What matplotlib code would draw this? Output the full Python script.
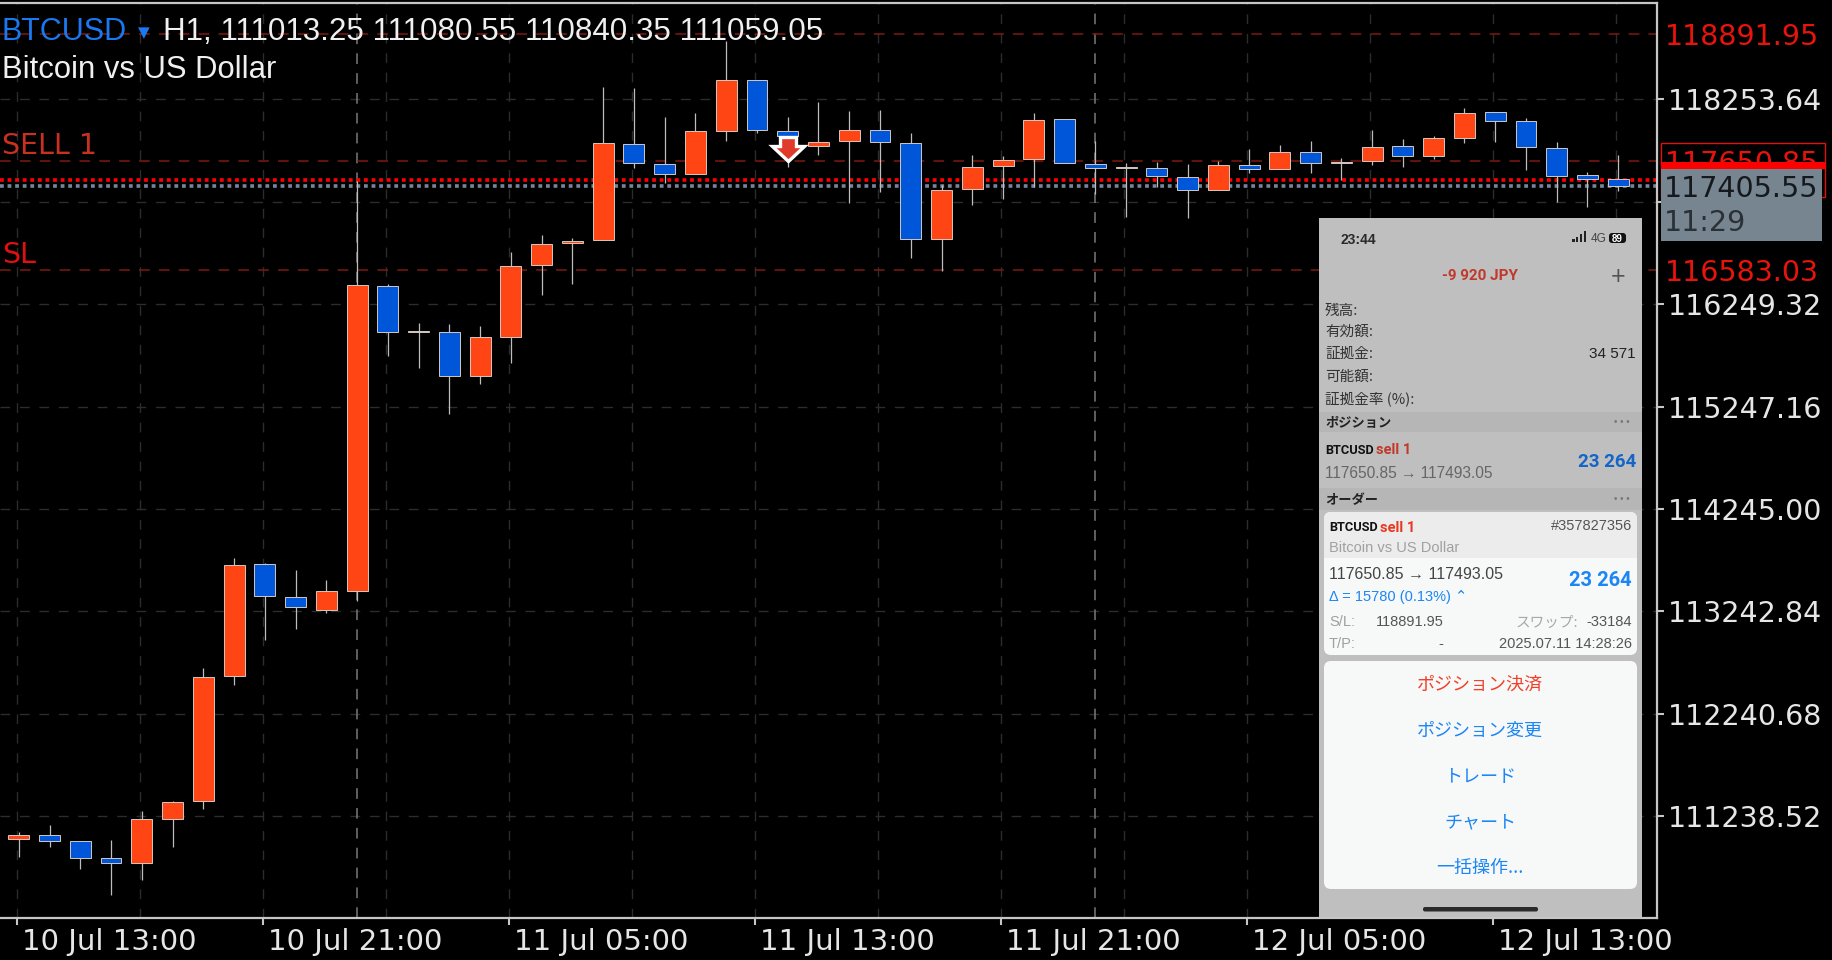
"""BTCUSD H1 candles with a trading app screenshot laid over the corner."""
import matplotlib

matplotlib.use("Agg")
import matplotlib.pyplot as plt
from matplotlib.patches import FancyBboxPatch, Rectangle
from matplotlib.path import Path
from matplotlib.transforms import ScaledTranslation

# candles, oldest first
opens = [111013.25, 111053, 110994, 110828, 110779, 111212, 111388, 112608, 113704, 113387,
         113260, 113446, 116427, 115980, 115980, 115546, 115931, 116630, 116845, 116877,
         117819, 117621, 117526, 117946, 118440, 117946, 117797, 117843, 117953, 117829,
         116890, 117373, 117601, 117670, 118061, 117621, 117590, 117579, 117496, 117366,
         117611, 117569, 117735, 117643, 117650, 117797, 117699, 117875, 118127, 118038,
         117777, 117510, 117471]
highs = [111080.55, 111151, 110998, 111004, 111290, 111385, 112687, 113763, 113720, 113648,
         113551, 117454, 116447, 116068, 116055, 116036, 116763, 116926, 116894, 118371,
         118361, 118083, 118117, 118827, 118440, 118083, 118224, 118139, 118149, 117927,
         117415, 117709, 117699, 118117, 118065, 117849, 117628, 117643, 117621, 117653,
         117765, 117807, 117849, 117676, 117950, 117862, 117898, 118166, 118127, 118068,
         117836, 117542, 117706]
lows = [110840.35, 110935, 110720, 110469, 110615, 110935, 111310, 112523, 112963, 113074,
        113231, 113348, 115742, 115622, 115175, 115468, 115671, 116339, 116447, 116877,
        117579, 117438, 117520, 117849, 117921, 117594, 117709, 117242, 117350, 116698,
        116574, 117220, 117275, 117399, 117627, 117327, 117105, 117399, 117089, 117366,
        117536, 117569, 117536, 117464, 117614, 117588, 117673, 117823, 117836, 117562,
        117252, 117197, 117359]
closes = [111059.05, 110994, 110828, 110779, 111215, 111376, 112601, 113694, 113394, 113283,
          113446, 116437, 115980, 115985, 115546, 115931, 116626, 116841, 116870, 117823,
          117633, 117526, 117946, 118440, 117953, 117895, 117839, 117953, 117833, 116884,
          117369, 117594, 117663, 118054, 117627, 117584, 117586, 117500, 117366, 117611,
          117569, 117735, 117627, 117633, 117787, 117699, 117872, 118123, 118044, 117784,
          117506, 117474, 117405.55]

price_ticks = [118253.64, 117251.48, 116249.32, 115247.16, 114245.00, 113242.84, 112240.68, 111238.52]
date_labels = ["10 Jul 13:00", "10 Jul 21:00", "11 Jul 05:00", "11 Jul 13:00",
               "11 Jul 21:00", "12 Jul 05:00", "12 Jul 13:00"]
separator_bars = [11, 35]

SL_PRICE = 118891.95
ENTRY_PRICE = 117650.85
LOW_LEVEL = 116583.03
ASK_PRICE = 117463.0
BID_PRICE = 117405.55
ENTRY_BAR = 25

UP = "#ff4514"
DOWN = "#0056d8"
AXIS = "#c6c6c6"
GRID = "#2c2c2c"
LEVEL = "#7e1a10"
RED = "#e8140c"
CJK = ["Noto Sans CJK JP", "DejaVu Sans"]
NARROW = "Roboto"
APP_BLUE = "#1c86f5"

W, H = 1833, 960
fig = plt.figure(figsize=(W / 100, H / 100), dpi=100, facecolor="black")

# main chart axes
ax = fig.add_axes([0, 1 - 918 / H, 1657 / W, 915 / H], facecolor="black")
ax.set_xlim(-0.6096, 53.26)
ax.set_ylim(110243.6, 119195.8)

n = len(opens)
xs = list(range(n))
grid_off = -0.06
ax.set_xticks([grid_off + 8 * i for i in range(len(date_labels))], date_labels,
              ha="left", fontsize=21, color="#e6e6e6", family="DejaVu Sans")
ax.set_xticks([grid_off + 4 * i for i in range(14)], minor=True)
ax.set_yticks(price_ticks, [f"{p:.2f}" for p in price_ticks], fontsize=20.5,
              color="#e6e6e6", family="DejaVu Sans")
ax.yaxis.tick_right()
ax.tick_params(axis="x", which="major", length=5, width=1.5, color=AXIS, pad=2)
ax.tick_params(axis="x", which="minor", length=0)
ax.tick_params(axis="y", length=5, width=1.5, color=AXIS, pad=3)
shift = ScaledTranslation(5 / 100, 0, fig.dpi_scale_trans)
for lab in ax.get_xticklabels():
    lab.set_transform(lab.get_transform() + shift)

ax.grid(True, which="both", color=GRID, lw=1, ls=(0, (7, 7)), zorder=1)
ax.set_axisbelow(True)
for name, spine in ax.spines.items():
    spine.set_color(AXIS)
    spine.set_linewidth(1.6)
ax.spines["left"].set_visible(False)

for b in separator_bars:
    ax.axvline(b, color="#7a7a7a", lw=1.1, ls=(0, (7, 6)), zorder=1.5)

for level in (SL_PRICE, ENTRY_PRICE, LOW_LEVEL):
    ax.axhline(level, color=LEVEL, lw=1.1, ls=(0, (7, 6)), zorder=1.6)
ax.axhline(ASK_PRICE, color="#ff0000", lw=2.6, ls=(0, (1.05, 1.05)), zorder=1.7)
ax.axhline(BID_PRICE, color="#75869a", lw=2.6, ls=(0, (1.05, 1.05)), zorder=1.7)

# candles
body_low = [min(o, c) for o, c in zip(opens, closes)]
body_h = [abs(o - c) for o, c in zip(opens, closes)]
colors = [UP if c >= o else DOWN for o, c in zip(opens, closes)]
ax.vlines(xs, lows, highs, color="#bdbdbd", lw=0.9, zorder=3)
ax.bar(xs, body_h, bottom=body_low, width=0.68, color=colors, edgecolor="#d4c8c0",
       linewidth=0.7, zorder=4)

# sell arrow, the tip sits on the entry price
arrow = Path([(0, 0), (-16, 15), (-8, 15), (-8, 24), (8, 24), (8, 15), (16, 15), (0, 0)], closed=True)
ax.scatter([ENTRY_BAR], [ENTRY_PRICE], marker=arrow, s=1194, facecolor="#e03a2a",
           edgecolor="white", linewidth=2.4, joinstyle="miter", zorder=5)

# price labels of the order levels
ytrans = ax.get_yaxis_transform()
for level in (SL_PRICE, ENTRY_PRICE, LOW_LEVEL):
    ax.text(1.0045, level, f"{level:.2f}", transform=ytrans, color=RED, fontsize=20.5,
            family="DejaVu Sans", va="center_baseline", ha="left", clip_on=False, zorder=6)

# header text
fig.text(2 / W, 1 - 29 / H, "BTCUSD", color="#1a78f0", fontsize=22, family="Liberation Sans",
         va="center_baseline")
fig.text(138 / W, 1 - 31 / H, "▼", color="#1a78f0", fontsize=11, family="DejaVu Sans",
         va="center_baseline")
fig.text(163 / W, 1 - 29 / H, "H1, 111013.25 111080.55 110840.35 111059.05", color="#f0f0f0",
         fontsize=22.6, family="Liberation Sans", va="center_baseline")
fig.text(2 / W, 1 - 66 / H, "Bitcoin vs US Dollar", color="#f0f0f0", fontsize=22.3,
         family="Liberation Sans", va="center_baseline")
fig.text(2 / W, 1 - 143 / H, "SELL 1", color="#c8301f", fontsize=20.5, family="DejaVu Sans",
         va="center_baseline")
fig.text(2 / W, 1 - 252 / H, "SL", color="#e01010", fontsize=20.5, family="DejaVu Sans",
         va="center_baseline")

# overlay in pixel coordinates: current price box and the phone screenshot
ui = fig.add_axes([0, 0, 1, 1], zorder=5)
ui.set_xlim(0, W)
ui.set_ylim(H, 0)
ui.axis("off")
ui.patch.set_alpha(0)


def box(x0, y0, x1, y1, color, radius=0, **kw):
    if radius:
        patch = FancyBboxPatch((x0, y0), x1 - x0, y1 - y0, boxstyle=f"round,pad=0,rounding_size={radius}",
                               facecolor=color, edgecolor="none", **kw)
    else:
        patch = Rectangle((x0, y0), x1 - x0, y1 - y0, facecolor=color, edgecolor="none", **kw)
    ui.add_patch(patch)


def label(x, y, s, color="#222222", size=10, family="Liberation Sans", ha="left", **kw):
    ui.text(x, y, s, color=color, fontsize=size, family=family, ha=ha, va="center_baseline", **kw)


# price box
ui.add_patch(Rectangle((1661, 143), 164, 54, facecolor="none", edgecolor="#e01010", lw=1))
box(1661, 169, 1822, 241, "#76858f")
box(1661, 162, 1826, 169, "#ff0000")
label(1664, 186, f"{BID_PRICE:.2f}", color="#15181c", size=20.5, family="DejaVu Sans")
label(1664, 220, "11:29", color="#2a3036", size=20.5, family="DejaVu Sans")

# phone screen
box(1319, 218, 1642, 917, "#bfbfbf")
label(1341, 238, "23:44", size=10, weight="bold", color="#2a2a2a")
for i, h in enumerate((3, 5, 8, 11)):
    box(1572 + i * 3.9, 242 - h, 1574.6 + i * 3.9, 242, "#222222")
label(1591, 238, "4G", size=8.5, color="#444444")
box(1609, 233, 1626, 243, "#111111", radius=3)
label(1617.5, 238, "89", color="white", size=7, ha="center", weight="bold")

label(1480, 274, "-9 920 JPY", color="#c0392b", size=11, family=NARROW, ha="center", weight="bold")
label(1618, 274, "+", color="#555555", size=18, ha="center")

rows = ["残高:", "有効額:", "証拠金:", "可能額:", "証拠金率 (%):"]
for row, y in zip(rows, (309, 330, 352, 375, 397)):
    label(1325, y, row, size=10.5, family=CJK, color="#333333")
label(1636, 352, "34 571", size=11, ha="right", color="#222222")

box(1319, 412, 1642, 432, "#b6b6b6")
label(1325, 422, "ポジション", size=9.5, family=CJK, weight="bold")
label(1622, 421, "• • •", size=7, color="#777777", ha="center")
label(1325, 449, "BTCUSD", size=9.2, family=NARROW, weight="bold", color="#111111")
label(1376, 449, "sell 1", size=10.5, family=NARROW, weight="bold", color="#c0392b")
label(1325, 472, "117650.85 → 117493.05", size=11.2, color="#666666")
label(1636, 460, "23 264", size=13.5, family=NARROW, weight="bold", color="#1565c8", ha="right")

box(1319, 488, 1642, 510, "#b6b6b6")
label(1325, 499, "オーダー", size=9.5, family=CJK, weight="bold")
label(1622, 498, "• • •", size=7, color="#777777", ha="center")

# order card
box(1324, 512, 1637, 655, "#f7f8f8", radius=7)
box(1324, 512, 1637, 566, "#ececec", radius=7)
box(1324, 558, 1637, 572, "#f7f8f8")
label(1329, 526, "BTCUSD", size=9.2, family=NARROW, weight="bold", color="#111111")
label(1380, 526, "sell 1", size=10.5, family=NARROW, weight="bold", color="#e8381f")
label(1632, 524, "#357827356", size=10.5, color="#555555", ha="right")
label(1329, 547, "Bitcoin vs US Dollar", size=10.5, color="#a0a0a0")
label(1329, 573, "117650.85 → 117493.05", size=11.5, color="#444444")
label(1632, 578, "23 264", size=14.5, family=NARROW, weight="bold", color=APP_BLUE, ha="right")
label(1329, 596, "Δ = 15780 (0.13%) ⌃", size=10.5, color=APP_BLUE, family=["Liberation Sans", "DejaVu Sans"])
label(1329, 621, "S/L:", size=10.5, color="#a0a0a0")
label(1376, 621, "118891.95", size=10.5, color="#555555")
label(1578, 621, "スワップ:", size=10.5, color="#a8a8a8", family=CJK, ha="right")
label(1632, 621, "-33184", size=10.5, color="#555555", ha="right")
label(1329, 643, "T/P:", size=10.5, color="#a0a0a0")
label(1441, 643, "-", size=10.5, color="#555555", ha="center")
label(1632, 643, "2025.07.11 14:28:26", size=10.5, color="#555555", ha="right")

# action sheet
box(1324, 661, 1637, 889, "#f7f8f8", radius=7)
actions = ["ポジション決済", "ポジション変更", "トレード", "チャート", "一括操作..."]
action_colors = ["#f0402a", APP_BLUE, APP_BLUE, APP_BLUE, APP_BLUE]
for s, c, y in zip(actions, action_colors, (683, 729, 775, 820, 866)):
    label(1480, y, s, color=c, size=13, family=CJK, ha="center")
box(1423, 907, 1538, 911.5, "#2a2a2a", radius=2)

fig.savefig("out.png", dpi=100, facecolor="black")
